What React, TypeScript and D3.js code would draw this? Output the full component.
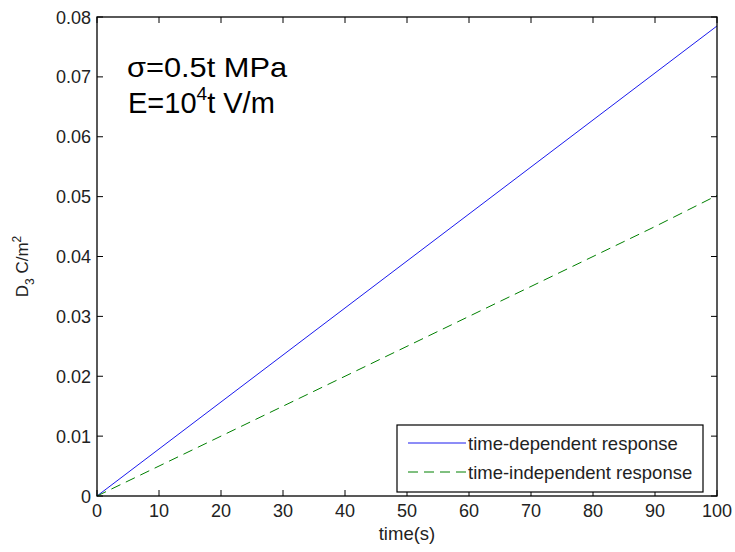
import React from "react";
import * as d3 from "d3";

const timeValues = [0, 10, 20, 30, 40, 50, 60, 70, 80, 90, 100];
const timeDependent = [0, 0.00785, 0.0157, 0.02355, 0.0314, 0.03925, 0.0471, 0.05495, 0.0628, 0.07065, 0.0785];
const timeIndependent = [0, 0.005, 0.01, 0.015, 0.02, 0.025, 0.03, 0.035, 0.04, 0.045, 0.0502];
const xTicks = [0, 10, 20, 30, 40, 50, 60, 70, 80, 90, 100];
const yTicks = [0, 0.01, 0.02, 0.03, 0.04, 0.05, 0.06, 0.07, 0.08];
const yTickLabels = ["0", "0.01", "0.02", "0.03", "0.04", "0.05", "0.06", "0.07", "0.08"];
const legendLabels = ["time-dependent response", "time-independent response"];

export default function App() {
  const W = 735, H = 552;
  const L = 97, R = 717, T = 17, B = 496;
  const x = d3.scaleLinear().domain([0, 100]).range([L, R]);
  const y = d3.scaleLinear().domain([0, 0.08]).range([B, T]);
  const line = d3.line<[number, number]>().x(d => x(d[0])).y(d => y(d[1]));
  const blue = line(timeValues.map((t, i) => [t, timeDependent[i]]) as [number, number][]) || "";
  const green = line(timeValues.map((t, i) => [t, timeIndependent[i]]) as [number, number][]) || "";
  const font = "Arial, 'Liberation Sans', sans-serif";
  const tl = 6;
  const fs = 18;
  return (
    <svg width={W} height={H} style={{ position: "absolute", left: 0, top: 0 }} fontFamily={font}>
      <rect width={W} height={H} fill="#fff" />
      <rect x={L} y={T} width={R - L} height={B - T} fill="#fff" />
      {xTicks.map(t => (
        <g key={"x" + t}>
          <line x1={x(t)} x2={x(t)} y1={B} y2={B - tl} stroke="#000" />
          <line x1={x(t)} x2={x(t)} y1={T} y2={T + tl} stroke="#000" />
          <text x={x(t)} y={B + 21} fontSize={fs} textAnchor="middle" fill="#222">{t}</text>
        </g>
      ))}
      {yTicks.map((v, i) => (
        <g key={"y" + i}>
          <line x1={L} x2={L + tl} y1={y(v)} y2={y(v)} stroke="#000" />
          <line x1={R} x2={R - tl} y1={y(v)} y2={y(v)} stroke="#000" />
          <text x={L - 6} y={y(v) + 6.5} fontSize={fs} textAnchor="end" fill="#222">{yTickLabels[i]}</text>
        </g>
      ))}
      <path d={blue} fill="none" stroke="#1a1aee" strokeWidth={1} />
      <path d={green} fill="none" stroke="#008000" strokeWidth={1} strokeDasharray="10,6" />
      <rect x={L} y={T} width={R - L} height={B - T} fill="none" stroke="#000" strokeWidth={1.3} />
      <text x={127} y={77} fontSize={28} fill="#000" textLength={160} lengthAdjust="spacingAndGlyphs">σ=0.5t MPa</text>
      <text x={128} y={113} fontSize={29} fill="#000">E=10<tspan dy={-13} fontSize={19}>4</tspan><tspan dy={13}>t V/m</tspan></text>
      <g>
        <rect x={397} y={425} width={306} height={67} fill="#fff" stroke="#000" strokeWidth={1.2} />
        <line x1={408} x2={466} y1={443} y2={443} stroke="#1a1aee" />
        <line x1={408} x2={466} y1={472} y2={472} stroke="#008000" strokeDasharray="10,6" />
        <text x={468} y={450} fontSize={18.5} fill="#222">{legendLabels[0]}</text>
        <text x={468} y={479} fontSize={18.5} fill="#222">{legendLabels[1]}</text>
      </g>
      <text x={(L + R) / 2} y={540} fontSize={18.5} textAnchor="middle" fill="#222">time(s)</text>
      <text transform={`translate(28, ${(T + B) / 2 + 10}) rotate(-90)`} fontSize={17} textAnchor="middle" fill="#222">
        D<tspan dy={6} fontSize={12}>3</tspan><tspan dy={-6}> C/m</tspan><tspan dy={-7} fontSize={12}>2</tspan>
      </text>
    </svg>
  );
}
